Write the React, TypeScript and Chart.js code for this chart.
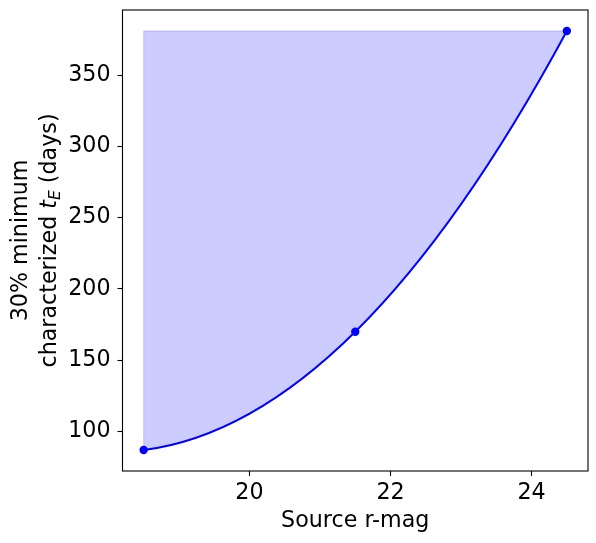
import React, { useEffect, useRef } from 'react';
import { Chart, registerables } from 'chart.js';

Chart.register(...registerables);

// ---- data ----
const rMag = [18.5, 21.5, 24.5];
const minTE = [87, 170, 381];
const xTickValues = [20, 22, 24];
const yTickValues = [100, 150, 200, 250, 300, 350];
const xLabel = 'Source r-mag';
const yLabelLine1 = '30% minimum';
const yLabelPre = 'characterized ';
const yLabelVar = 't';
const yLabelSub = 'E';
const yLabelPost = ' (days)';

const FONT = '"DejaVu Sans", sans-serif';
const FS = 22.2;

function withMargin(vals: number[]) {
  const lo = Math.min(...vals);
  const hi = Math.max(...vals);
  const m = (hi - lo) * 0.05;
  return [lo - m, hi + m];
}

const smoothCurve = {
  id: 'smoothCurve',
  afterDatasetsUpdate(chart: any) {
    const meta = chart.getDatasetMeta(0);
    const line = meta.dataset;
    const pts = meta.data as any[];
    if (!line || pts.length < 3) return;
    line.updateControlPoints(chart.chartArea, 'x');
    const n = pts.length;
    const slope = (i: number) => {
      const j = Math.min(Math.max(i - 1, 0), n - 3);
      const a = pts[j], b = pts[j + 1], c = pts[j + 2];
      const x = pts[i].x;
      return (
        (a.y * ((x - b.x) + (x - c.x))) / ((a.x - b.x) * (a.x - c.x)) +
        (b.y * ((x - a.x) + (x - c.x))) / ((b.x - a.x) * (b.x - c.x)) +
        (c.y * ((x - a.x) + (x - b.x))) / ((c.x - a.x) * (c.x - b.x))
      );
    };
    const m = pts.map((_, i) => slope(i));
    for (let i = 0; i < n - 1; i++) {
      const h = pts[i + 1].x - pts[i].x;
      pts[i].cp2x = pts[i].x + h / 3;
      pts[i].cp2y = pts[i].y + (m[i] * h) / 3;
      pts[i + 1].cp1x = pts[i + 1].x - h / 3;
      pts[i + 1].cp1y = pts[i + 1].y - (m[i + 1] * h) / 3;
    }
    pts[0].cp1x = pts[0].x;
    pts[0].cp1y = pts[0].y;
    pts[n - 1].cp2x = pts[n - 1].x;
    pts[n - 1].cp2y = pts[n - 1].y;
  },
};

const frameAndTitle = {
  id: 'frameAndTitle',
  afterDraw(chart: any) {
    const { ctx, chartArea: a } = chart;
    ctx.save();
    ctx.strokeStyle = '#000';
    ctx.lineWidth = 1.1;
    ctx.strokeRect(a.left, a.top, a.right - a.left, a.bottom - a.top);

    const cy = (a.top + a.bottom) / 2;
    ctx.fillStyle = '#000';
    ctx.textBaseline = 'alphabetic';
    // line 1
    ctx.save();
    ctx.translate(27, cy);
    ctx.rotate(-Math.PI / 2);
    ctx.font = `${FS}px ${FONT}`;
    ctx.textAlign = 'center';
    ctx.fillText(yLabelLine1, 0, 0);
    ctx.restore();
    // line 2
    ctx.save();
    ctx.translate(56, cy);
    ctx.rotate(-Math.PI / 2);
    ctx.textAlign = 'left';
    const normal = `${FS}px ${FONT}`;
    const ital = `italic ${FS}px ${FONT}`;
    const sub = `italic ${FS * 0.7}px ${FONT}`;
    ctx.font = normal;
    const w1 = ctx.measureText(yLabelPre).width;
    const w4 = ctx.measureText(yLabelPost).width;
    ctx.font = ital;
    const w2 = ctx.measureText(yLabelVar).width;
    ctx.font = sub;
    const w3 = ctx.measureText(yLabelSub).width;
    const total = w1 + w2 + w3 + w4;
    let u = -total / 2;
    ctx.font = normal;
    ctx.fillText(yLabelPre, u, 0);
    u += w1;
    ctx.font = ital;
    ctx.fillText(yLabelVar, u, 0);
    u += w2;
    ctx.font = sub;
    ctx.fillText(yLabelSub, u, 3.8);
    u += w3;
    ctx.font = normal;
    ctx.fillText(yLabelPost, u, 0);
    ctx.restore();
    ctx.restore();
  },
};

export default function App() {
  const ref = useRef<HTMLCanvasElement>(null);
  useEffect(() => {
    if (!ref.current) return;
    const [xMin, xMax] = withMargin(rMag);
    const [yMin, yMax] = withMargin(minTE);
    const top = Math.max(...minTE);
    const curve = rMag.map((x, i) => ({ x, y: minTE[i] }));
    const ceiling = [
      { x: rMag[0], y: top },
      { x: rMag[rMag.length - 1], y: top },
    ];
    const leftEdge = [
      { x: rMag[0], y: minTE[0] },
      { x: rMag[0], y: top },
    ];
    const chart = new Chart(ref.current, {
      type: 'line',
      data: {
        datasets: [
          {
            data: curve,
            borderColor: '#0000ff',
            borderWidth: 2,
            tension: 0.4,
            pointRadius: 4.2,
            pointBackgroundColor: '#0000ff',
            pointBorderWidth: 0,
            fill: { target: 1 },
            backgroundColor: 'rgba(0,0,255,0.2)',
          } as any,
          {
            data: ceiling,
            borderColor: 'rgba(0,0,255,0.2)',
            borderWidth: 1,
            pointRadius: 0,
            fill: false,
          },
          {
            data: leftEdge,
            borderColor: 'rgba(0,0,255,0.2)',
            borderWidth: 1,
            pointRadius: 0,
            fill: false,
          },
        ],
      },
      options: {
        animation: false,
        responsive: false,
        devicePixelRatio: 1,
        layout: { padding: { top: 10, right: 8, left: 0, bottom: 0 } },
        plugins: { legend: { display: false }, tooltip: { enabled: false } },
        scales: {
          x: {
            type: 'linear',
            min: xMin,
            max: xMax,
            afterBuildTicks: (s: any) => {
              s.ticks = xTickValues.map((v) => ({ value: v }));
            },
            afterFit: (s: any) => {
              s.height = 72;
              s.paddingLeft = 0;
              s.paddingRight = 0;
            },
            grid: {
              drawOnChartArea: false,
              drawTicks: true,
              tickLength: 5,
              tickColor: '#000',
              tickWidth: 1.1,
            },
            border: { display: false },
            ticks: {
              color: '#000',
              font: { family: FONT, size: FS },
              padding: 4,
              maxRotation: 0,
            },
            title: {
              display: true,
              text: xLabel,
              color: '#000',
              font: { family: FONT, size: FS },
              padding: { top: 0, bottom: 8.5 },
            },
          },
          y: {
            type: 'linear',
            min: yMin,
            max: yMax,
            afterBuildTicks: (s: any) => {
              s.ticks = yTickValues.map((v) => ({ value: v }));
            },
            afterFit: (s: any) => {
              s.width = 122.5;
              s.paddingTop = 0;
              s.paddingBottom = 0;
            },
            grid: {
              drawOnChartArea: false,
              drawTicks: true,
              tickLength: 5,
              tickColor: '#000',
              tickWidth: 1.1,
            },
            border: { display: false },
            ticks: {
              color: '#000',
              font: { family: FONT, size: FS },
              padding: 7,
            },
          },
        },
      },
      plugins: [smoothCurve, frameAndTitle],
    });
    return () => chart.destroy();
  }, []);
  return (
    <div style={{ position: 'absolute', left: 0, top: 0, width: 596, height: 543 }}>
      <canvas ref={ref} width={596} height={543} style={{ width: 596, height: 543, display: 'block' }} />
    </div>
  );
}
